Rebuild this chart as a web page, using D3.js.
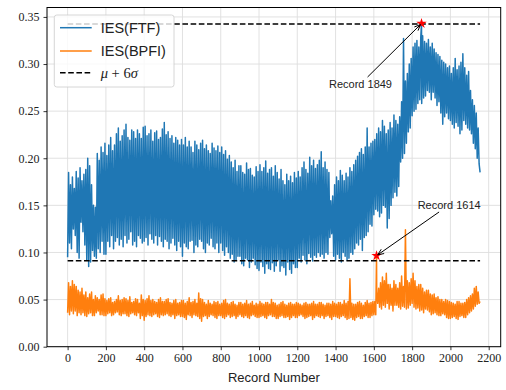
<!DOCTYPE html>
<html>
<head>
<meta charset="utf-8">
<script src="https://cdn.jsdelivr.net/npm/d3@7"></script>
<style>
  body { margin: 0; background: #fff; }
  svg { display: block; }
</style>
</head>
<body>
<svg id="chart" width="506" height="390"></svg>
<script>
// Health indicator (IES) per record, one value every 5 records
const recordStep = 5;

const ftfValues = [
  0.095, 0.185, 0.110, 0.172, 0.104, 0.180, 0.125, 0.168, 0.118, 0.186, 0.100, 0.179, 0.094, 0.190, 0.132, 0.176, 0.122, 0.183, 0.108, 0.188,
  0.092, 0.200, 0.085, 0.192, 0.090, 0.172, 0.102, 0.150, 0.096, 0.148, 0.094, 0.205, 0.104, 0.198, 0.100, 0.212, 0.112, 0.206, 0.098, 0.216,
  0.098, 0.203, 0.112, 0.214, 0.106, 0.222, 0.118, 0.208, 0.104, 0.214, 0.112, 0.226, 0.116, 0.232, 0.108, 0.218, 0.114, 0.224, 0.106, 0.230,
  0.118, 0.236, 0.110, 0.222, 0.114, 0.219, 0.122, 0.230, 0.108, 0.228, 0.112, 0.221, 0.106, 0.230, 0.118, 0.226, 0.115, 0.221, 0.110, 0.233,
  0.112, 0.234, 0.116, 0.224, 0.108, 0.226, 0.120, 0.230, 0.114, 0.218, 0.110, 0.227, 0.118, 0.229, 0.108, 0.220, 0.117, 0.222, 0.112, 0.231,
  0.106, 0.238, 0.114, 0.225, 0.112, 0.228, 0.104, 0.221, 0.110, 0.224, 0.115, 0.216, 0.108, 0.222, 0.102, 0.219, 0.112, 0.214, 0.106, 0.220,
  0.096, 0.214, 0.110, 0.222, 0.106, 0.212, 0.104, 0.218, 0.112, 0.212, 0.113, 0.206, 0.100, 0.218, 0.108, 0.214, 0.106, 0.209, 0.114, 0.216,
  0.112, 0.219, 0.104, 0.210, 0.100, 0.214, 0.110, 0.208, 0.108, 0.205, 0.115, 0.216, 0.106, 0.211, 0.104, 0.208, 0.110, 0.213, 0.100, 0.206,
  0.110, 0.212, 0.102, 0.204, 0.097, 0.208, 0.106, 0.199, 0.100, 0.203, 0.094, 0.196, 0.098, 0.190, 0.090, 0.198, 0.092, 0.186, 0.096, 0.192,
  0.096, 0.192, 0.088, 0.185, 0.086, 0.183, 0.094, 0.195, 0.092, 0.188, 0.084, 0.189, 0.090, 0.182, 0.094, 0.180, 0.087, 0.191, 0.083, 0.186,
  0.081, 0.193, 0.090, 0.186, 0.085, 0.190, 0.078, 0.197, 0.088, 0.184, 0.083, 0.188, 0.082, 0.190, 0.089, 0.181, 0.080, 0.192, 0.086, 0.185,
  0.092, 0.178, 0.080, 0.188, 0.086, 0.176, 0.084, 0.172, 0.076, 0.183, 0.090, 0.176, 0.082, 0.181, 0.078, 0.174, 0.088, 0.185, 0.084, 0.179,
  0.084, 0.186, 0.094, 0.180, 0.090, 0.190, 0.097, 0.196, 0.092, 0.188, 0.088, 0.184, 0.099, 0.201, 0.095, 0.192, 0.091, 0.198, 0.097, 0.189,
  0.095, 0.193, 0.100, 0.198, 0.096, 0.207, 0.098, 0.190, 0.094, 0.196, 0.100, 0.188, 0.098, 0.185, 0.116, 0.155, 0.120, 0.160, 0.096, 0.172,
  0.092, 0.180, 0.098, 0.176, 0.094, 0.187, 0.090, 0.182, 0.100, 0.176, 0.096, 0.184, 0.092, 0.180, 0.094, 0.190, 0.100, 0.186, 0.098, 0.193,
  0.104, 0.198, 0.110, 0.202, 0.108, 0.206, 0.114, 0.210, 0.102, 0.204, 0.116, 0.212, 0.118, 0.232, 0.122, 0.212, 0.130, 0.216, 0.128, 0.218,
  0.140, 0.220, 0.146, 0.226, 0.144, 0.232, 0.138, 0.228, 0.142, 0.240, 0.150, 0.234, 0.148, 0.226, 0.126, 0.230, 0.136, 0.238, 0.150, 0.232,
  0.158, 0.246, 0.164, 0.240, 0.160, 0.236, 0.170, 0.244, 0.196, 0.260, 0.200, 0.327, 0.205, 0.282, 0.216, 0.290, 0.228, 0.300, 0.232, 0.306,
  0.245, 0.318, 0.250, 0.322, 0.252, 0.325, 0.258, 0.318, 0.262, 0.328, 0.258, 0.330, 0.264, 0.324, 0.266, 0.322, 0.272, 0.326, 0.270, 0.318,
  0.262, 0.322, 0.270, 0.316, 0.264, 0.312, 0.256, 0.310, 0.260, 0.308, 0.248, 0.304, 0.236, 0.302, 0.244, 0.300, 0.248, 0.296, 0.242, 0.298,
  0.240, 0.290, 0.236, 0.296, 0.232, 0.306, 0.238, 0.294, 0.234, 0.298, 0.226, 0.302, 0.230, 0.311, 0.240, 0.296, 0.236, 0.288, 0.232, 0.292,
  0.230, 0.272, 0.226, 0.262, 0.216, 0.256, 0.210, 0.248, 0.200, 0.232, 0.194, 0.185
];

const bpfiValues = [
  0.036, 0.068, 0.034, 0.064, 0.038, 0.070, 0.035, 0.066, 0.038, 0.064, 0.033, 0.060, 0.036, 0.058, 0.034, 0.062, 0.036, 0.055, 0.033, 0.058,
  0.032, 0.052, 0.035, 0.056, 0.036, 0.058, 0.033, 0.050, 0.033, 0.054, 0.036, 0.052, 0.038, 0.050, 0.034, 0.055, 0.034, 0.056, 0.033, 0.051,
  0.033, 0.049, 0.035, 0.051, 0.036, 0.052, 0.033, 0.047, 0.034, 0.048, 0.036, 0.050, 0.037, 0.054, 0.034, 0.049, 0.033, 0.050, 0.035, 0.052,
  0.035, 0.051, 0.033, 0.049, 0.032, 0.053, 0.035, 0.047, 0.036, 0.048, 0.034, 0.051, 0.033, 0.050, 0.036, 0.046, 0.030, 0.055, 0.033, 0.050,
  0.028, 0.049, 0.032, 0.051, 0.034, 0.054, 0.033, 0.049, 0.032, 0.050, 0.034, 0.048, 0.035, 0.047, 0.032, 0.050, 0.031, 0.052, 0.034, 0.048,
  0.033, 0.048, 0.034, 0.050, 0.035, 0.051, 0.033, 0.047, 0.032, 0.046, 0.034, 0.049, 0.030, 0.050, 0.033, 0.046, 0.034, 0.047, 0.032, 0.049,
  0.032, 0.049, 0.031, 0.046, 0.029, 0.048, 0.034, 0.052, 0.033, 0.047, 0.031, 0.048, 0.034, 0.050, 0.033, 0.046, 0.032, 0.057, 0.030, 0.051,
  0.027, 0.050, 0.032, 0.047, 0.033, 0.045, 0.030, 0.049, 0.032, 0.046, 0.034, 0.045, 0.033, 0.048, 0.031, 0.047, 0.030, 0.048, 0.033, 0.045,
  0.033, 0.046, 0.031, 0.049, 0.030, 0.050, 0.032, 0.046, 0.034, 0.045, 0.031, 0.047, 0.032, 0.048, 0.033, 0.045, 0.030, 0.044, 0.032, 0.047,
  0.034, 0.047, 0.032, 0.045, 0.031, 0.046, 0.033, 0.049, 0.031, 0.045, 0.030, 0.046, 0.033, 0.048, 0.034, 0.044, 0.032, 0.046, 0.031, 0.045,
  0.031, 0.048, 0.032, 0.046, 0.033, 0.045, 0.031, 0.047, 0.030, 0.047, 0.033, 0.045, 0.034, 0.050, 0.032, 0.047, 0.032, 0.046, 0.030, 0.044,
  0.030, 0.045, 0.032, 0.047, 0.033, 0.048, 0.031, 0.045, 0.031, 0.044, 0.032, 0.046, 0.029, 0.047, 0.031, 0.045, 0.033, 0.045, 0.031, 0.047,
  0.031, 0.046, 0.033, 0.045, 0.034, 0.044, 0.032, 0.046, 0.030, 0.047, 0.031, 0.045, 0.032, 0.045, 0.033, 0.046, 0.029, 0.048, 0.031, 0.045,
  0.033, 0.045, 0.032, 0.047, 0.031, 0.047, 0.033, 0.045, 0.030, 0.044, 0.032, 0.046, 0.033, 0.046, 0.031, 0.045, 0.029, 0.048, 0.032, 0.046,
  0.032, 0.045, 0.031, 0.047, 0.030, 0.047, 0.032, 0.045, 0.033, 0.049, 0.031, 0.046, 0.029, 0.048, 0.030, 0.072, 0.031, 0.046, 0.029, 0.045,
  0.028, 0.045, 0.031, 0.047, 0.032, 0.048, 0.030, 0.046, 0.030, 0.044, 0.032, 0.047, 0.033, 0.049, 0.031, 0.046, 0.031, 0.047, 0.033, 0.048,
  0.034, 0.048, 0.034, 0.058, 0.046, 0.062, 0.042, 0.068, 0.040, 0.074, 0.044, 0.070, 0.042, 0.078, 0.046, 0.066, 0.040, 0.066, 0.044, 0.062,
  0.038, 0.070, 0.044, 0.066, 0.044, 0.062, 0.042, 0.068, 0.040, 0.075, 0.043, 0.064, 0.042, 0.124, 0.040, 0.070, 0.041, 0.068, 0.044, 0.072,
  0.046, 0.078, 0.042, 0.070, 0.040, 0.064, 0.041, 0.066, 0.038, 0.066, 0.039, 0.062, 0.036, 0.058, 0.040, 0.060, 0.039, 0.060, 0.037, 0.056,
  0.034, 0.055, 0.035, 0.056, 0.036, 0.052, 0.034, 0.053, 0.033, 0.050, 0.033, 0.050, 0.035, 0.048, 0.034, 0.050, 0.031, 0.049, 0.030, 0.048,
  0.030, 0.047, 0.031, 0.046, 0.032, 0.045, 0.030, 0.048, 0.029, 0.048, 0.032, 0.046, 0.033, 0.046, 0.031, 0.047, 0.031, 0.050, 0.034, 0.052,
  0.036, 0.054, 0.038, 0.056, 0.040, 0.062, 0.043, 0.064, 0.045, 0.058, 0.046, 0.048
];

// Alarm thresholds (mu + 6 sigma) for FTF and BPFI
const thresholds = [0.3425, 0.0912];

// First records that cross each threshold
const alarmSeries = ["ftf", "bpfi"];
const alarmRecords = [1849, 1614];
const alarmValues = [0.343, 0.0966];
const alarmLabels = ["Record 1849", "Record 1614"];

const seriesNames = ["IES(FTF)", "IES(BPFI)"];
const xTicks = d3.range(0, 2201, 200);
const yTicks = [0, 0.05, 0.10, 0.15, 0.20, 0.25, 0.30, 0.35];
const xLimits = [-107.75, 2262.75];
const yLimits = [0, 0.36];

// ---- layout & style ----
const plot = { left: 47, right: 500.7, top: 7.5, bottom: 346.7 };
const colors = { ftf: "#1f77b4", bpfi: "#ff7f0e" };
const tickFont = "'Liberation Serif', 'DejaVu Serif', serif";
const textFont = "'Liberation Sans', Arial, sans-serif";
const labelOffsets = [[-61, 64.5], [72.6, -46.7]];

const svg = d3.select("#chart");
const x = d3.scaleLinear().domain(xLimits).range([plot.left, plot.right]);
const y = d3.scaleLinear().domain(yLimits).range([plot.bottom, plot.top]);

svg.append("defs").append("clipPath").attr("id", "plot-clip")
  .append("rect")
  .attr("x", plot.left).attr("y", plot.top)
  .attr("width", plot.right - plot.left).attr("height", plot.bottom - plot.top);

// grid
const grid = svg.append("g");
grid.selectAll("line.gx").data(xTicks).join("line")
  .attr("x1", d => x(d)).attr("x2", d => x(d))
  .attr("y1", plot.top).attr("y2", plot.bottom)
  .attr("stroke", "#dedede").attr("stroke-width", 0.9);
grid.selectAll("line.gy").data(yTicks).join("line")
  .attr("y1", d => y(d)).attr("y2", d => y(d))
  .attr("x1", plot.left).attr("x2", plot.right)
  .attr("stroke", "#dedede").attr("stroke-width", 0.9);

// series points, with the alarm records merged in
function buildPoints(values, key) {
  const pts = values.map((v, i) => ({ record: i * recordStep, value: v }));
  alarmSeries.forEach((s, i) => {
    if (s === key) pts.push({ record: alarmRecords[i], value: alarmValues[i] });
  });
  return pts.sort((a, b) => a.record - b.record);
}
const ftfPoints = buildPoints(ftfValues, "ftf");
const bpfiPoints = buildPoints(bpfiValues, "bpfi");

const line = d3.line().x(d => x(d.record)).y(d => y(d.value));
const data = svg.append("g").attr("clip-path", "url(#plot-clip)");

data.append("path").datum(ftfPoints).attr("d", line)
  .attr("fill", "none").attr("stroke", colors.ftf)
  .attr("stroke-width", 1.5).attr("stroke-linejoin", "round");
data.append("path").datum(bpfiPoints).attr("d", line)
  .attr("fill", "none").attr("stroke", colors.bpfi)
  .attr("stroke-width", 1.5).attr("stroke-linejoin", "round");

// threshold lines
const recExtent = d3.extent(ftfPoints, d => d.record);
data.selectAll("line.thr").data(thresholds).join("line")
  .attr("x1", x(recExtent[0])).attr("x2", x(recExtent[1]))
  .attr("y1", d => y(d)).attr("y2", d => y(d))
  .attr("stroke", "#000").attr("stroke-width", 1.5)
  .attr("stroke-dasharray", "5.6,2.6");

// alarm markers
const star = d3.symbol().type(d3.symbolStar).size(34);
svg.selectAll("path.alarm").data(alarmRecords).join("path")
  .attr("d", star)
  .attr("transform", (d, i) => `translate(${x(d)},${y(alarmValues[i])})`)
  .attr("fill", "#ff0000");

// annotations
alarmRecords.forEach((rec, i) => {
  const sx = x(rec), sy = y(alarmValues[i]);
  const tx = sx + labelOffsets[i][0], ty = sy + labelOffsets[i][1];
  const t = svg.append("text")
    .attr("x", tx).attr("y", ty)
    .attr("text-anchor", "middle")
    .attr("font-family", textFont).attr("font-size", 11)
    .attr("fill", "#222")
    .text(alarmLabels[i]);
  const bb = t.node().getBBox();
  const cx = bb.x + bb.width / 2, cy = bb.y + bb.height / 2;
  const hw = bb.width / 2 + 1, hh = bb.height / 2 + 1;
  const dx = sx - cx, dy = sy - cy;
  const k = Math.min(hw / Math.abs(dx), hh / Math.abs(dy));
  const x0 = cx + dx * k, y0 = cy + dy * k;
  const len = Math.hypot(sx - x0, sy - y0);
  const ux = (sx - x0) / len, uy = (sy - y0) / len;
  const ex = sx - ux * 1.5, ey = sy - uy * 1.5;
  svg.append("line")
    .attr("x1", x0).attr("y1", y0).attr("x2", ex).attr("y2", ey)
    .attr("stroke", "#000").attr("stroke-width", 1);
  const hl = 6, hwid = 2.6;
  svg.append("path")
    .attr("d", `M${ex - ux * hl - uy * hwid},${ey - uy * hl + ux * hwid}L${ex},${ey}L${ex - ux * hl + uy * hwid},${ey - uy * hl - ux * hwid}`)
    .attr("fill", "none").attr("stroke", "#000").attr("stroke-width", 1);
});

// axes
const xAxis = svg.append("g").attr("transform", `translate(0,${plot.bottom})`)
  .call(d3.axisBottom(x).tickValues(xTicks).tickFormat(d3.format("d")).tickSize(3.5).tickPadding(3.5));
const yAxis = svg.append("g").attr("transform", `translate(${plot.left},0)`)
  .call(d3.axisLeft(y).tickValues(yTicks).tickFormat(d3.format(".2f")).tickSize(3.5).tickPadding(4));
[xAxis, yAxis].forEach(a => {
  a.select(".domain").remove();
  a.selectAll(".tick line").attr("stroke", "#000").attr("stroke-width", 0.8);
  a.selectAll(".tick text").attr("font-family", tickFont).attr("font-size", 12).attr("fill", "#222");
});

// frame
svg.append("rect")
  .attr("x", plot.left).attr("y", plot.top)
  .attr("width", plot.right - plot.left).attr("height", plot.bottom - plot.top)
  .attr("fill", "none").attr("stroke", "#000").attr("stroke-width", 1);

svg.append("text")
  .attr("x", (plot.left + plot.right) / 2).attr("y", 382)
  .attr("text-anchor", "middle")
  .attr("font-family", textFont).attr("font-size", 13).attr("fill", "#222")
  .text("Record Number");

// legend
const legend = svg.append("g").attr("transform", "translate(54.3,15)");
legend.append("rect")
  .attr("width", 119.7).attr("height", 72).attr("rx", 2.5)
  .attr("fill", "#fff").attr("fill-opacity", 0.8)
  .attr("stroke", "#cccccc").attr("stroke-width", 0.8);
const legendRows = [
  { name: seriesNames[0], color: colors.ftf, dash: null },
  { name: seriesNames[1], color: colors.bpfi, dash: null },
  { name: null, color: "#000", dash: "5.6,2.6" }
];
const rowY = [12.7, 36, 57.7];
legendRows.forEach((r, i) => {
  legend.append("line")
    .attr("x1", 5.7).attr("x2", 37.4).attr("y1", rowY[i]).attr("y2", rowY[i])
    .attr("stroke", r.color).attr("stroke-width", 1.5)
    .attr("stroke-dasharray", r.dash);
  const t = legend.append("text")
    .attr("x", 46.4).attr("y", rowY[i] + 5)
    .attr("font-size", 14.5).attr("fill", "#222");
  if (r.name) {
    t.attr("font-family", textFont).text(r.name);
  } else {
    t.attr("font-family", tickFont);
    t.append("tspan").attr("font-style", "italic").text("μ");
    t.append("tspan").text(" + 6");
    t.append("tspan").attr("font-style", "italic").text("σ");
  }
});
</script>
</body>
</html>
